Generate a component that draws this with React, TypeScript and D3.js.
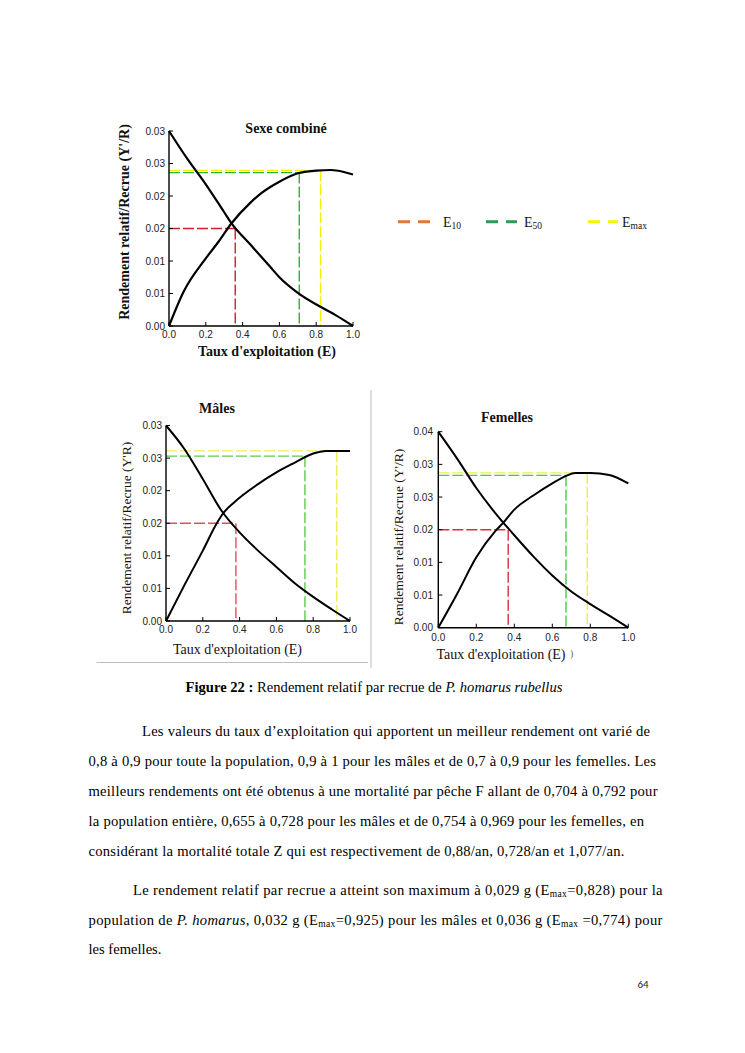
import React from 'react';
import * as d3 from 'd3';

// ---------- DATA ----------
const xTickValues = [0, 0.2, 0.4, 0.6, 0.8, 1.0];
const xTickLabels = ['0.0', '0.2', '0.4', '0.6', '0.8', '1.0'];

const yTicksA = [0, 0.005, 0.01, 0.015, 0.02, 0.025, 0.03];
const yTickLabelsA = ['0.00', '0.01', '0.01', '0.02', '0.02', '0.03', '0.03'];
const yTicksF = [0, 0.0065, 0.013, 0.0195, 0.026, 0.0325, 0.039];
const yTickLabelsF = ['0.00', '0.01', '0.01', '0.02', '0.03', '0.03', '0.04'];

// Sexe combiné
const combYieldE = [0, 0.08, 0.2, 0.27, 0.34, 0.44, 0.5, 0.6, 0.7, 0.8, 0.88, 0.95, 1.0];
const combYield = [0, 0.0053, 0.0104, 0.013, 0.0158, 0.0189, 0.0204, 0.0222, 0.0235, 0.0239, 0.024, 0.0237, 0.0233];
const combBioE = [0, 0.1, 0.2, 0.3, 0.34, 0.44, 0.5, 0.55, 0.6, 0.7, 0.82, 0.91, 1.0];
const combBio = [0.03, 0.0257, 0.0218, 0.0175, 0.0158, 0.0126, 0.0107, 0.0091, 0.0075, 0.0051, 0.003, 0.0016, 0.0];
const combRefE = [0.36, 0.708, 0.824];
const combRefV = [0.015, 0.0236, 0.02395];

// Mâles
const malYieldE = [0, 0.1, 0.2, 0.276, 0.31, 0.37, 0.5, 0.6, 0.7, 0.8, 0.87, 1.0];
const malYield = [0, 0.0055, 0.0108, 0.015, 0.0165, 0.0182, 0.021, 0.0228, 0.0243, 0.0257, 0.0261, 0.0261];
const malBioE = [0, 0.1, 0.2, 0.3, 0.4, 0.5, 0.6, 0.7, 0.8, 0.9, 1.0];
const malBio = [0.03, 0.0264, 0.0218, 0.017, 0.0136, 0.0108, 0.0083, 0.0058, 0.0037, 0.0018, 0.0];
const malRefE = [0.38, 0.755, 0.928];
const malRefV = [0.015, 0.0253, 0.0261];

// Femelles
const femYieldE = [0, 0.1, 0.2, 0.3, 0.34, 0.4, 0.5, 0.6, 0.672, 0.72, 0.8, 0.9, 1.0];
const femYield = [0, 0.0068, 0.014, 0.0192, 0.0208, 0.0235, 0.0263, 0.0287, 0.0302, 0.0308, 0.0308, 0.0304, 0.0287];
const femBioE = [0, 0.1, 0.2, 0.3, 0.4, 0.5, 0.6, 0.7, 0.8, 0.9, 1.0];
const femBio = [0.039, 0.0336, 0.0278, 0.0228, 0.0184, 0.0142, 0.0104, 0.0072, 0.0047, 0.0024, 0.0];
const femRefE = [0.368, 0.672, 0.784];
const femRefV = [0.0195, 0.0303, 0.0308];

const legendNames = ['10', '50', 'max'];

// ---------- COMPONENTS ----------
type PanelProps = {
  x0: number; x1: number; yB: number; yT: number; yMax: number;
  yTicks: number[]; yTickLabels: string[];
  yieldE: number[]; yieldV: number[]; bioE: number[]; bioV: number[];
  refE: number[]; refV: number[]; refColors: string[];
  title: string; titleX: number; titleY: number;
  yLab: string; yLabX: number; yLabY: number;
  xLab: string; xLabX: number; xLabY: number;
  bold: boolean; labSize: number; xTickY: number; yTickX: number; curveW: number;
};

const serif = "'Liberation Serif', 'Times New Roman', serif";
const sans = "'Liberation Sans', Arial, sans-serif";

function Panel(p: PanelProps) {
  const xs = d3.scaleLinear().domain([0, 1]).range([p.x0, p.x1]);
  const ys = d3.scaleLinear().domain([0, p.yMax]).range([p.yB, p.yT]);
  const line = d3.line<[number, number]>().x(d => xs(d[0])).y(d => ys(d[1])).curve(d3.curveMonotoneX);
  const yieldPts = p.yieldE.map((e, i) => [e, p.yieldV[i]] as [number, number]);
  const bioPts = p.bioE.map((e, i) => [e, p.bioV[i]] as [number, number]);
  return (
    <g>
      {p.refE.map((e, i) => (
        <g key={i} stroke={p.refColors[i]} strokeWidth={1.4} strokeDasharray="11,3" fill="none">
          <line x1={xs(0)} x2={xs(e)} y1={ys(p.refV[i])} y2={ys(p.refV[i])} />
          <line x1={xs(e)} x2={xs(e)} y1={ys(p.refV[i])} y2={ys(0)} />
        </g>
      ))}
      <path d={line(bioPts) || ''} fill="none" stroke="#000" strokeWidth={p.curveW} />
      <path d={line(yieldPts) || ''} fill="none" stroke="#000" strokeWidth={p.curveW} />
      <line x1={xs(0)} x2={xs(0)} y1={ys(0)} y2={ys(p.yTicks[p.yTicks.length - 1])} stroke="#000" strokeWidth={1.4} />
      <line x1={xs(0)} x2={xs(1)} y1={ys(0)} y2={ys(0)} stroke="#000" strokeWidth={1.4} />
      {p.yTicks.map((t, i) => (
        <g key={'y' + i}>
          <line x1={xs(0)} x2={xs(0) + 4} y1={ys(t)} y2={ys(t)} stroke="#000" strokeWidth={1} />
          <text x={p.yTickX} y={ys(t)} dy="0.35em" textAnchor="end" fontFamily={sans} fontSize={10} fill="#222">{p.yTickLabels[i]}</text>
        </g>
      ))}
      {xTickValues.map((t, i) => (
        <g key={'x' + i}>
          <line x1={xs(t)} x2={xs(t)} y1={ys(0)} y2={ys(0) - 4} stroke="#000" strokeWidth={1} />
          <text x={xs(t)} y={p.xTickY} textAnchor="middle" fontFamily={sans} fontSize={10} fill="#222">{xTickLabels[i]}</text>
        </g>
      ))}
      <text x={p.titleX} y={p.titleY} textAnchor="middle" fontFamily={serif} fontWeight="bold" fontSize={14} fill="#111">{p.title}</text>
      <text transform={`translate(${p.yLabX},${p.yLabY}) rotate(-90)`} textAnchor="middle" fontFamily={serif} fontWeight={p.bold ? 'bold' : 'normal'} fontSize={p.labSize} fill="#111">{p.yLab}</text>
      <text x={p.xLabX} y={p.xLabY} textAnchor="middle" fontFamily={serif} fontWeight={p.bold ? 'bold' : 'normal'} fontSize={14} fill="#111">{p.xLab}</text>
    </g>
  );
}

const paraLines = [
  { x: 142, y: 736, w: 508, t: 'Les valeurs du taux d’exploitation qui apportent un meilleur rendement ont varié de' },
  { x: 88.5, y: 766, w: 567.5, t: '0,8 à 0,9 pour toute la population, 0,9 à 1 pour les mâles et de 0,7 à 0,9 pour les femelles. Les' },
  { x: 88.5, y: 796, w: 569, t: 'meilleurs rendements ont été obtenus à une mortalité par pêche F allant de 0,704 à 0,792 pour' },
  { x: 88.5, y: 826, w: 555.5, t: 'la population entière, 0,655 à 0,728 pour les mâles et de 0,754 à 0,969 pour les femelles, en' },
  { x: 88.5, y: 855.5, w: 536, t: 'considérant la mortalité totale Z qui est respectivement de 0,88/an, 0,728/an et 1,077/an.' },
];

const FS = 14.6;

export default function App() {
  return (
    <svg width={745} height={1053} style={{ position: 'absolute', left: 0, top: 0, background: '#fff' }}>
      <rect x={0} y={0} width={745} height={1053} fill="#fff" />
      <Panel x0={169} x1={353} yB={326} yT={131} yMax={0.03}
        yTicks={yTicksA} yTickLabels={yTickLabelsA}
        yieldE={combYieldE} yieldV={combYield} bioE={combBioE} bioV={combBio}
        refE={combRefE} refV={combRefV} refColors={['#c8202c', '#2cb52c', '#f2f200']}
        title="Sexe combiné" titleX={286} titleY={133}
        yLab="Rendement relatif/Recrue (Y'/R)" yLabX={129} yLabY={222}
        xLab="Taux d'exploitation (E)" xLabX={267} xLabY={356}
        bold={true} labSize={14} xTickY={338} yTickX={165} curveW={2.2} />
      <Panel x0={166} x1={350} yB={621} yT={425.5} yMax={0.03}
        yTicks={yTicksA} yTickLabels={yTickLabelsA}
        yieldE={malYieldE} yieldV={malYield} bioE={malBioE} bioV={malBio}
        refE={malRefE} refV={malRefV} refColors={['#e0505c', '#5ccc48', '#eeee50']}
        title="Mâles" titleX={217} titleY={413}
        yLab="Rendement relatif/Recrue (Y'R)" yLabX={131} yLabY={528}
        xLab="Taux d'exploitation (E)" xLabX={237.5} xLabY={654}
        bold={false} labSize={13.5} xTickY={633} yTickX={162} curveW={2} />
      <Panel x0={438.3} x1={628.3} yB={627.7} yT={431.7} yMax={0.039}
        yTicks={yTicksF} yTickLabels={yTickLabelsF}
        yieldE={femYieldE} yieldV={femYield} bioE={femBioE} bioV={femBio}
        refE={femRefE} refV={femRefV} refColors={['#d8303a', '#48c848', '#eeee48']}
        title="Femelles" titleX={507} titleY={422}
        yLab="Rendement relatif/Recrue (Y'/R)" yLabX={403} yLabY={537}
        xLab="Taux d'exploitation (E)" xLabX={501} xLabY={659}
        bold={false} labSize={13.5} xTickY={641} yTickX={433} curveW={2} />
      <text x={570} y={657} fontFamily={serif} fontSize={10} fill="#666">)</text>

      {/* separators */}
      <line x1={96.7} x2={368} y1={662.5} y2={662.5} stroke="#bdbdbd" strokeWidth={1} />
      <line x1={371} x2={371} y1={390} y2={668} stroke="#bdbdbd" strokeWidth={1} />

      {/* legend */}
      {[[398, 430, '#E0783A', 443], [486, 517, '#2E9A5A', 524], [588, 618, '#F5F500', 622]].map((l, i) => (
        <g key={i}>
          <line x1={l[0] as number} x2={l[1] as number} y1={221.7} y2={221.7} stroke={l[2] as string} strokeWidth={3} strokeDasharray="12,8" />
          <text x={l[3] as number} y={226.5} fontFamily={serif} fontSize={14} fill="#111">E<tspan fontSize={9.5} dy={2.5}>{legendNames[i]}</tspan></text>
        </g>
      ))}

      {/* caption */}
      <text x={374} y={692} textAnchor="middle" fontFamily={serif} fontSize={FS} fill="#000">
        <tspan fontWeight="bold">Figure 22 :</tspan> Rendement relatif par recrue de <tspan fontStyle="italic">P. homarus rubellus</tspan>
      </text>

      {/* paragraph 1 */}
      {paraLines.map((l, i) => (
        <text key={i} x={l.x} y={l.y} textLength={l.w} lengthAdjust="spacing" fontFamily={serif} fontSize={FS} fill="#000">{l.t}</text>
      ))}
      {/* paragraph 2 */}
      <text x={133} y={894.5} textLength={529.6} lengthAdjust="spacing" fontFamily={serif} fontSize={FS} fill="#000">
        Le rendement relatif par recrue a atteint son maximum à 0,029 g (E<tspan fontSize={9.5} dy={2}>max</tspan><tspan dy={-2}>=0,828) pour la</tspan>
      </text>
      <text x={88.5} y={924.5} textLength={574} lengthAdjust="spacing" fontFamily={serif} fontSize={FS} fill="#000">
        population de <tspan fontStyle="italic">P. homarus</tspan>, 0,032 g (E<tspan fontSize={9.5} dy={2}>max</tspan><tspan dy={-2}>=0,925) pour les mâles et 0,036 g (E</tspan><tspan fontSize={9.5} dy={2}>max</tspan><tspan dy={-2}> =0,774) pour</tspan>
      </text>
      <text x={88.5} y={954} fontFamily={serif} fontSize={FS} fill="#000">les femelles.</text>

      <text x={643} y={988} textAnchor="middle" fontFamily={"Carlito, 'Open Sans', 'Liberation Sans', sans-serif"} fontSize={11} fill="#222">64</text>
    </svg>
  );
}
